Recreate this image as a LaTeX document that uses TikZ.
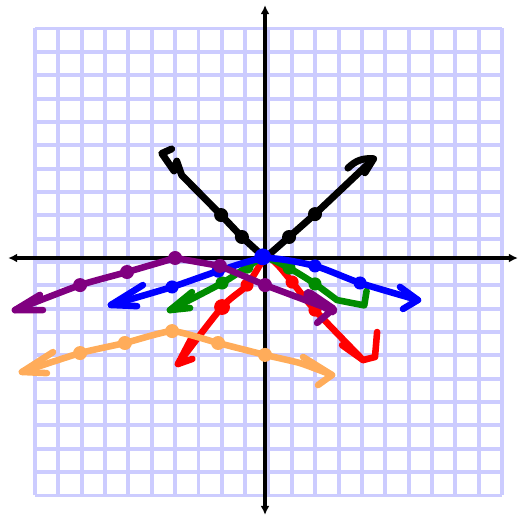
\documentclass[tikz,border=0pt]{standalone}
\usepackage{tikz}
\usetikzlibrary{arrows.meta}

\definecolor{gridblue}{RGB}{204,204,255}
\definecolor{lightorange}{RGB}{255,172,90}
\definecolor{darkgreen}{RGB}{0,140,0}
\definecolor{plum}{RGB}{128,0,128}

\begin{document}
\begin{tikzpicture}[
    gridline/.style={gridblue, line width=4.8pt},
    axis/.style={line width=4pt, {Latex[length=11pt, width=11pt]}-{Latex[length=11pt, width=11pt]}},
    curve/.style={line width=8pt, line cap=round, line join=round}
]
    \useasboundingbox (-11.35,-11.09) rectangle (10.92,11.05);

    % grid
    \draw[gridline, shift={(0.15,-0.17)}] (-10,-10) grid (10,10);

    % axes
    \coordinate (o) at (0,0);
    \coordinate (xl) at (-11.0,0);
    \coordinate (xr) at (10.83,0);
    \coordinate (yb) at (0,-11.0);
    \coordinate (yt) at (0,10.83);
    \draw[axis] (xl) -- (xr);
    \draw[axis] (yb) -- (yt);

    % black
    \coordinate (kl1) at (-0.99,0.90);
    \coordinate (kl2) at (-1.88,1.84);
    \coordinate (kl3) at (-3.57,3.55);
    \coordinate (kr1) at (1.03,0.90);
    \coordinate (kr2) at (2.14,1.88);
    \coordinate (kr3) at (4.65,4.25);
    \draw[curve, line width=8.5pt] (o) -- (kl1) -- (kl2) -- (kl3)
        -- ++(-0.21,0.60) -- ++(-0.12,-0.42) -- ++(-0.52,0.75) -- ++(0.42,0.19);
    \draw[curve, line width=8.5pt] (o) -- (kr1) -- (kr2) -- (kr3);
    \draw[curve, line width=8.5pt] (kr3) ++(-1.1,-0.4) to[bend left=25] (kr3) -- ++(-0.37,-0.6);
    \foreach \p in {kl1,kl2,kr1,kr2}
        \fill (\p) circle (0.3);

    % red
    \coordinate (rl1) at (-0.77,-1.16);
    \coordinate (rl2) at (-1.84,-2.10);
    \coordinate (rl3) at (-3.73,-4.54);
    \coordinate (rr1) at (1.16,-1.03);
    \coordinate (rr2) at (2.14,-2.23);
    \coordinate (rr3) at (4.20,-4.37);
    \draw[curve, red] plot[smooth] coordinates {(rl3) (rl2) (rl1) (o) (0.45,-0.2) (rr1) (rr2) (rr3)};
    \draw[curve, red] (rl3) -- ++(0.55,1.05) (rl3) -- ++(0.62,0.22);
    \draw[curve, red] (rr3) -- ++(-0.90,0.64) (rr3) -- ++(0.51,0.13) -- ++(0.09,1.07);
    \foreach \p in {rl1,rr1,rr2}
        \fill[red] (\p) circle (0.28);
    \fill[red] (rl2) circle (0.34);

    % orange
    \coordinate (ol) at (-10.41,-4.88);
    \coordinate (o1) at (-7.92,-4.07);
    \coordinate (o2) at (-6.00,-3.64);
    \coordinate (o3) at (-3.98,-3.13);
    \coordinate (o4) at (-2.01,-3.64);
    \coordinate (o5) at (0,-4.15);
    \coordinate (or) at (2.87,-5.01);
    \draw[curve, lightorange] plot[smooth, tension=0.3] coordinates {(ol) (o1) (o2) (o3) (o4) (o5) (1.5,-4.5) (or)};
    \draw[curve, lightorange] (ol) -- ++(1.33,0.85) (ol) -- ++(1.07,-0.05);
    \draw[curve, lightorange] (or) -- ++(-1.24,0.77) (or) -- ++(-0.60,-0.43);
    \foreach \p in {o1,o2,o3,o4,o5}
        \fill[lightorange] (\p) circle (0.3);

    % green
    \coordinate (gl1) at (-0.77,-0.39);
    \coordinate (gl2) at (-1.84,-1.07);
    \coordinate (gl3) at (-4.07,-2.23);
    \coordinate (gr1) at (1.03,-0.43);
    \coordinate (gr2) at (2.14,-1.11);
    \coordinate (gr3) at (4.25,-2.03);
    \draw[curve, darkgreen] plot[smooth] coordinates {(gl3) (gl2) (gl1) (o) (gr1) (gr2) (3.08,-1.80)} -- (gr3) -- ++(0.1,0.62);
    \draw[curve, darkgreen] (gl3) -- ++(0.94,0.77) (gl3) -- ++(0.86,0.09);
    \foreach \p in {gl1,gl2,gr1,gr2}
        \fill[darkgreen] (\p) circle (0.28);

    % blue
    \coordinate (bl1) at (-2.01,-0.56);
    \coordinate (bl2) at (-3.98,-1.24);
    \coordinate (bl3) at (-6.60,-2.01);
    \coordinate (br1) at (2.14,-0.34);
    \coordinate (br2) at (4.07,-1.07);
    \coordinate (br3) at (6.55,-1.80);
    \draw[curve, blue] plot[smooth, tension=0.4] coordinates {(bl3) (bl2) (bl1) (o) (br1) (br2) (br3)};
    \draw[curve, blue] (bl3) -- ++(1.37,0.85) (bl3) -- ++(1.12,-0.05);
    \draw[curve, blue] (br3) -- ++(-0.77,0.56) (br3) -- ++(-0.64,-0.38);
    \foreach \p in {bl1,bl2,br1,br2}
        \fill[blue] (\p) circle (0.28);
    \fill[blue] (-0.1,0.05) circle (0.36);

    % purple
    \coordinate (pl) at (-10.71,-2.23);
    \coordinate (p1) at (-7.92,-1.16);
    \coordinate (p2) at (-5.91,-0.60);
    \coordinate (p3) at (-3.85,0);
    \coordinate (p4) at (-1.93,-0.34);
    \coordinate (p5) at (0,-1.16);
    \coordinate (pr) at (2.87,-2.23);
    \draw[curve, plum] plot[smooth, tension=0.3] coordinates {(pl) (p1) (p2) (p3)} -- (p4) -- (p5) -- (pr);
    \draw[curve, plum] (pl) -- ++(1.07,0.65) (pl) -- ++(1.20,0);
    \draw[curve, plum, line width=13pt] (pr) -- ++(-1.0,0.68);
    \draw[curve, plum] (pr) -- ++(-0.64,-0.55);
    \foreach \p in {p1,p2,p3,p4,p5}
        \fill[plum] (\p) circle (0.3);
\end{tikzpicture}
\end{document}
